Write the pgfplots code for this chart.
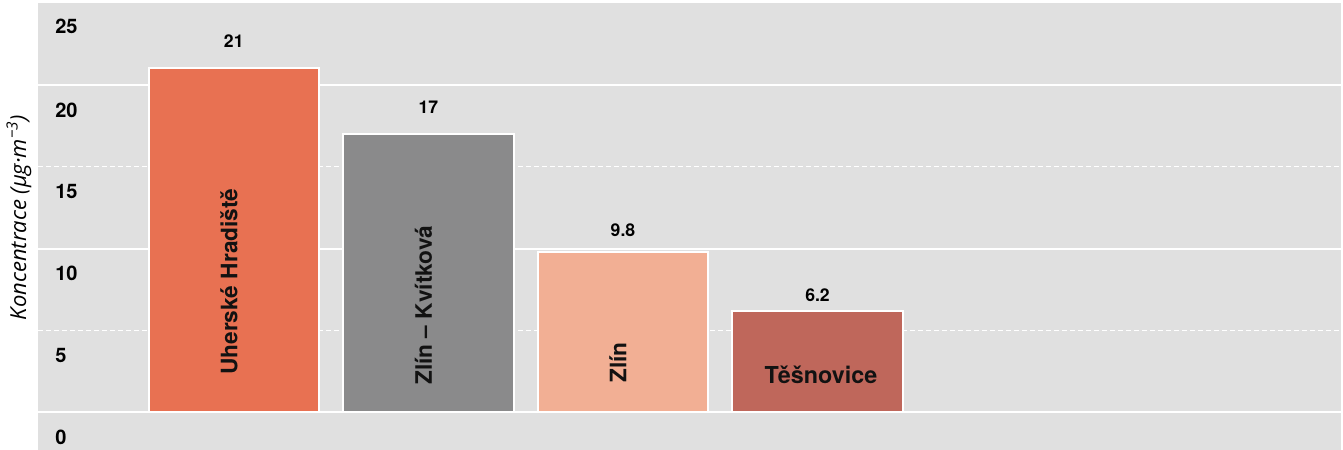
\documentclass[border=0pt]{standalone}
\usepackage{fontspec}
\setmainfont{TeX Gyre Heros}
\newfontfamily\osans{Open Sans}
\usepackage{pgfplots}
\pgfplotsset{compat=1.18}
\definecolor{bgc}{HTML}{E0E0E0}
\definecolor{c1}{HTML}{E87152}
\definecolor{c2}{HTML}{8A8A8B}
\definecolor{c3}{HTML}{F2AF94}
\definecolor{c4}{HTML}{BF675B}
\begin{document}
\begin{tikzpicture}
\begin{axis}[
 scale only axis, width=977.25pt, height=335.25pt,
 xmin=-1.006, xmax=5.69, ymin=-2.3, ymax=25,
 axis background/.style={fill=bgc},
 axis line style={draw=none},
 major tick length=0pt, minor tick length=0pt,
 xtick=\empty,
 ytick={-1.53,3.47,8.47,13.47,18.47,23.6},
 yticklabels={0,5,10,15,20,25},
 yticklabel style={anchor=west, inner sep=0pt, xshift=12.75pt, font=\bfseries\fontsize{15}{15}\selectfont, text=black},
 /pgf/number format/assume math mode=true,
 minor ytick={5,15},
 yminorgrids=true,
 minor grid style={white, line width=0.75pt, dash pattern=on 3.75pt off 2.25pt},
 extra y ticks={0,10,20},
 extra y tick labels={},
 extra y tick style={grid=major, major grid style={white, line width=1.5pt}},
 ylabel={Koncentrace (µg·m\textsuperscript{−3})},
 ylabel style={at={(axis description cs:-0.0146,0.52)}, anchor=center, font=\osans\itshape\fontsize{16.5}{17}\selectfont},
 clip=false,
]
\addplot[ybar, bar width=0.876, bar shift=0pt, fill=c1, draw=white, line width=1.5pt,
  nodes near coords, nodes near coords style={anchor=base, inner sep=0pt, yshift=15.6pt, font=\bfseries\fontsize{13.2}{13}\selectfont, text=black}]
  coordinates {(0,21)};
\addplot[ybar, bar width=0.876, bar shift=0pt, fill=c2, draw=white, line width=1.5pt,
  nodes near coords, nodes near coords style={anchor=base, inner sep=0pt, yshift=15pt, font=\bfseries\fontsize{13.2}{13}\selectfont, text=black}]
  coordinates {(1,17)};
\addplot[ybar, bar width=0.876, bar shift=0pt, fill=c3, draw=white, line width=1.5pt,
  nodes near coords, nodes near coords style={anchor=base, inner sep=0pt, yshift=11.2pt, font=\bfseries\fontsize{13.2}{13}\selectfont, text=black}]
  coordinates {(2,9.8)};
\addplot[ybar, bar width=0.876, bar shift=0pt, fill=c4, draw=white, line width=1.5pt,
  nodes near coords, nodes near coords style={anchor=base, inner sep=0pt, yshift=6.8pt, font=\bfseries\fontsize{13.2}{13}\selectfont, text=black}]
  coordinates {(3,6.2)};
\addplot[only marks, mark=none, point meta=explicit symbolic, nodes near coords,
  nodes near coords style={rotate=90, anchor=mid west, inner sep=0pt, font=\bfseries\fontsize{17}{17}\selectfont, text=black!93}]
  coordinates {(0,2.28)[Uherské Hradiště] (1,1.67)[Zlín – Kvítková] (2,1.79)[Zlín]};
\addplot[only marks, mark=none, point meta=explicit symbolic, nodes near coords,
  nodes near coords style={anchor=base, inner sep=0pt, xshift=2.5pt, font=\bfseries\fontsize{17.5}{17}\selectfont, text=black!93}]
  coordinates {(3,1.77)[Těšnovice]};
\end{axis}
\path ([xshift=-28.5pt]current axis.south west) rectangle ([xshift=1.5pt,yshift=2.25pt]current axis.north east);
\end{tikzpicture}
\end{document}
